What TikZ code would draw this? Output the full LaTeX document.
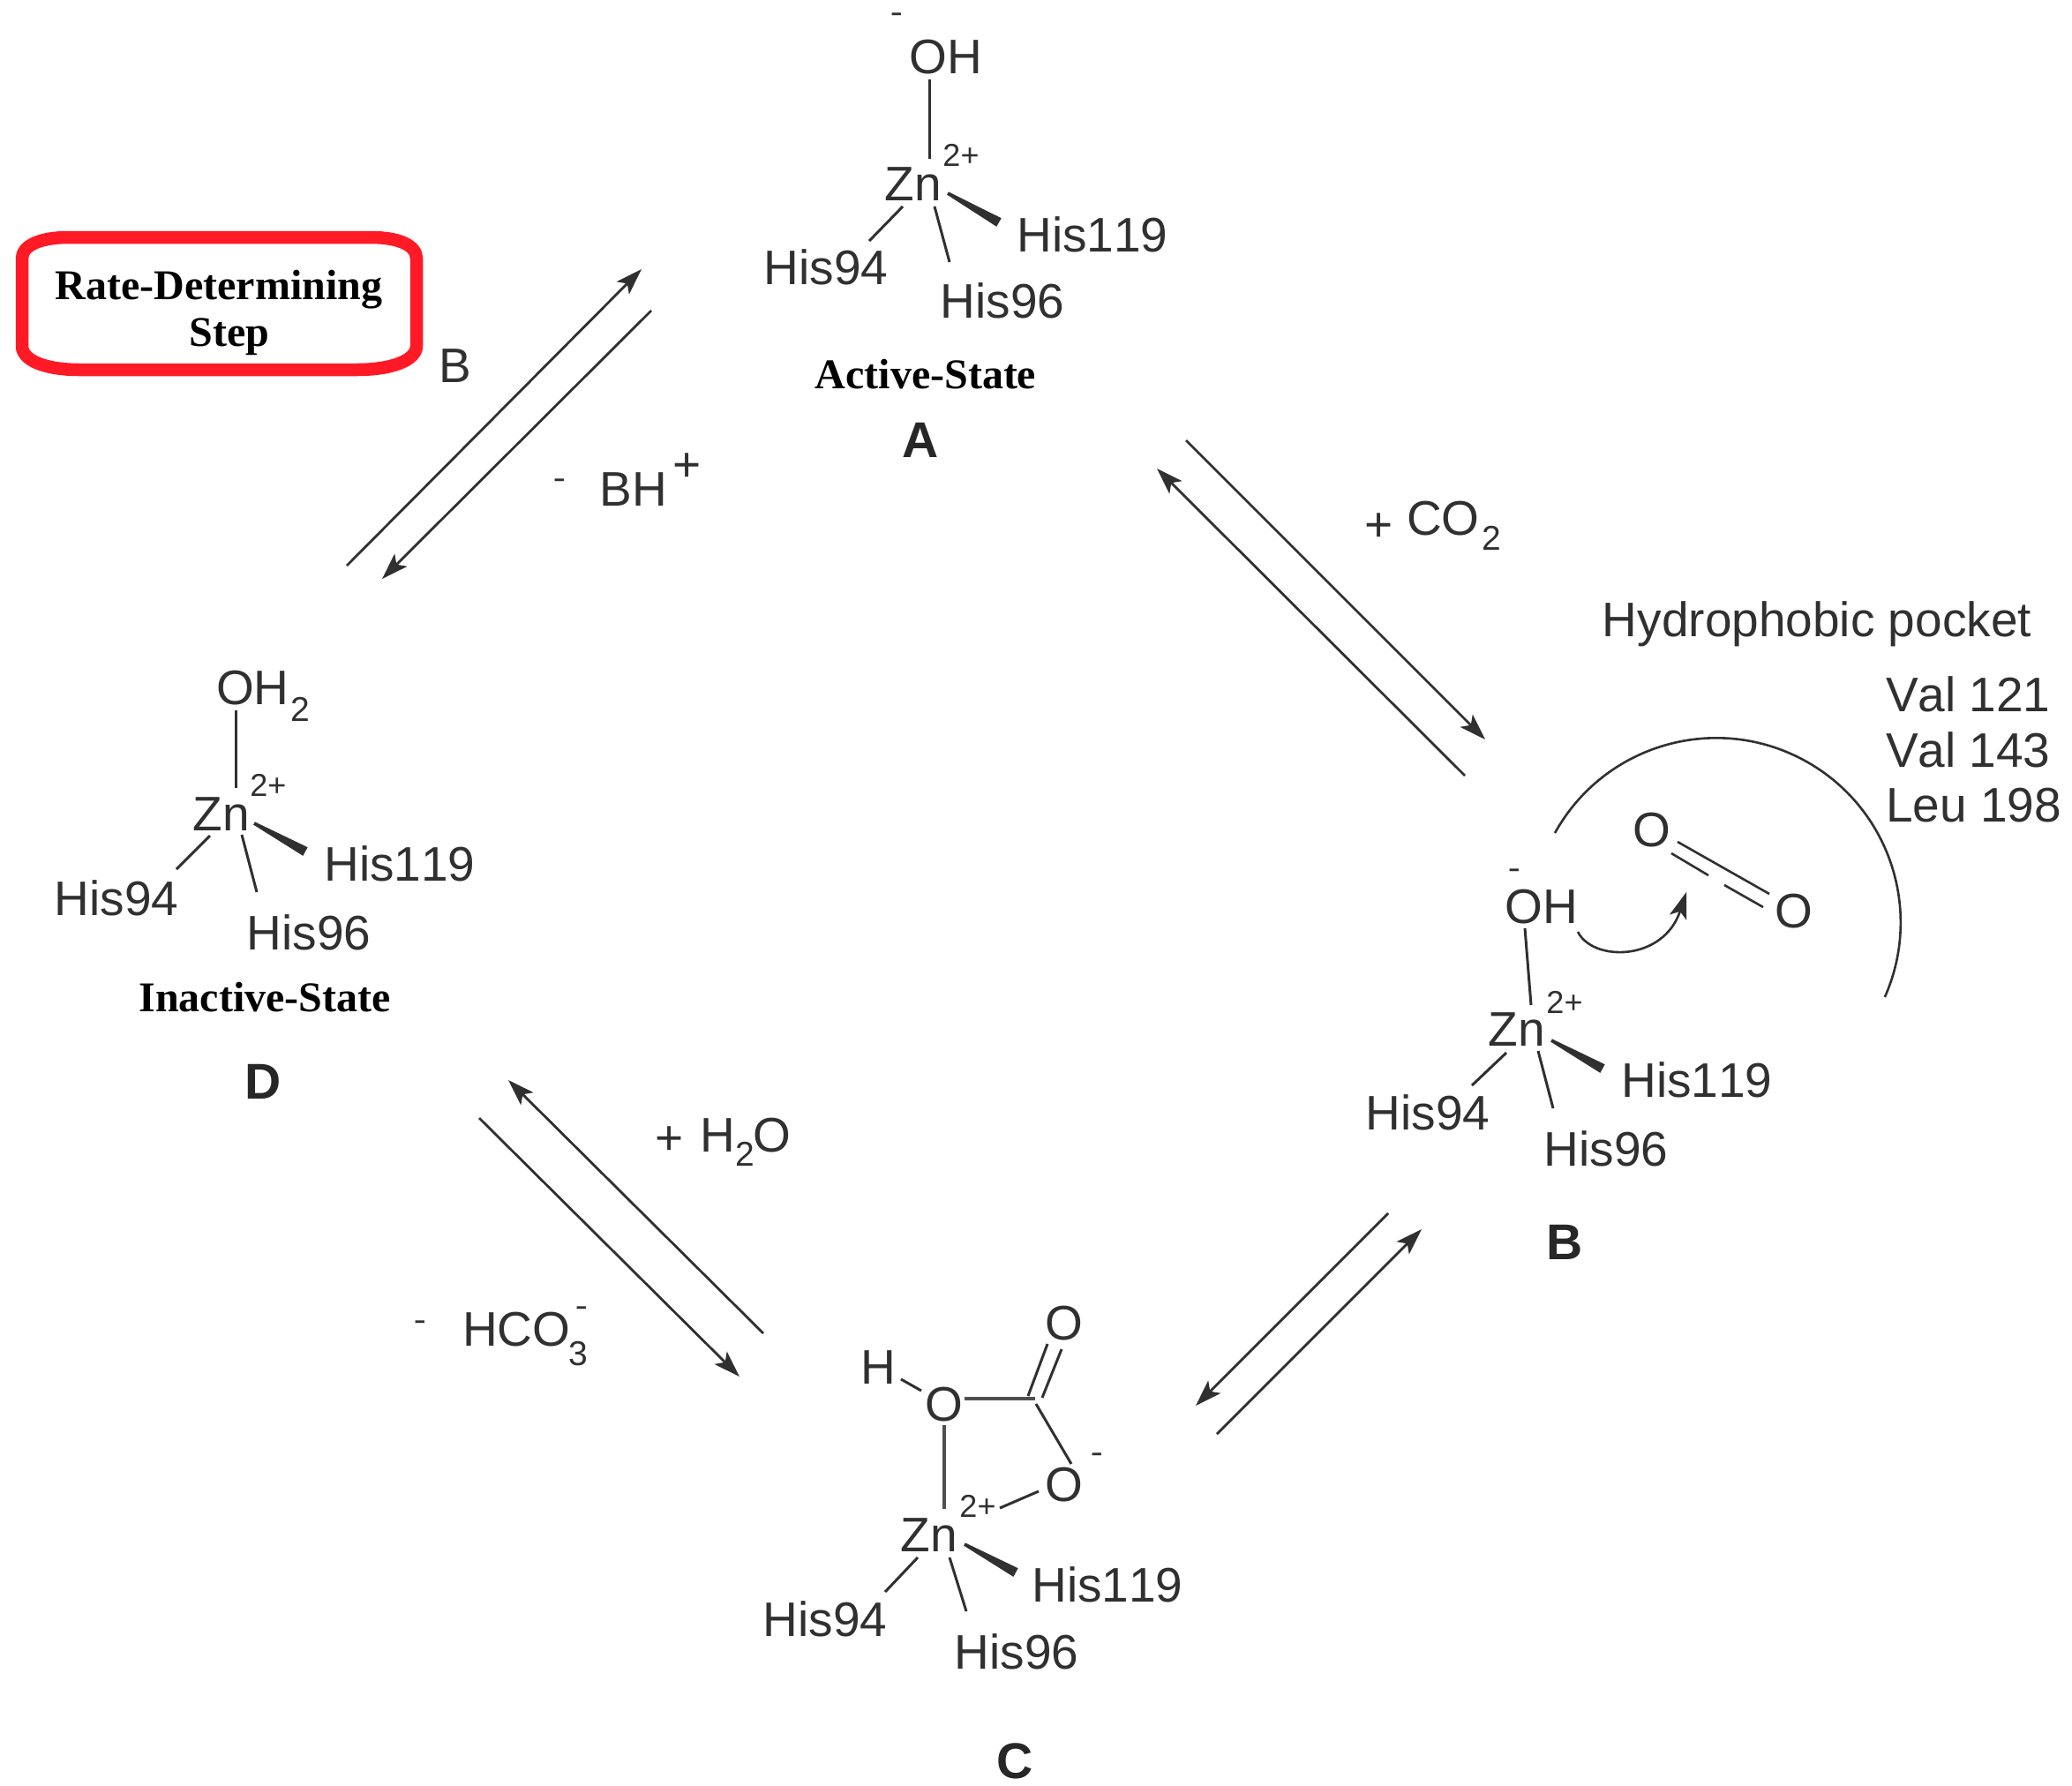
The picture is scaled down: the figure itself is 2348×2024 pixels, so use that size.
\documentclass[tikz,border=0pt]{standalone}
\usepackage{graphicx}
\usepackage{fontspec}
\setmainfont[Kerning=Off]{Liberation Sans}
\newfontfamily\serifbold[BoldFont={Liberation Serif Bold}]{Liberation Serif}
\usetikzlibrary{arrows.meta,calc}
\definecolor{ink}{HTML}{303030}
\definecolor{boxred}{HTML}{FF1A25}
\newcommand{\wedgebond}[2]{\fill[ink] (#1) -- ($(#1)!1.8pt!90:(#2)$) -- ($(#2)!5.5pt!-90:(#1)$) -- ($(#2)!5.5pt!90:(#1)$) -- ($(#1)!1.8pt!-90:(#2)$) -- cycle;}
\newcommand{\minussign}{\scalebox{1.7}[1]{-}}
\tikzset{
  lab/.style={inner sep=0pt,outer sep=0pt,text=ink,font=\fontsize{55}{60}\selectfont},
  sup/.style={inner sep=0pt,outer sep=0pt,text=ink,font=\fontsize{36}{40}\selectfont},
  subs/.style={inner sep=0pt,outer sep=0pt,text=ink,font=\fontsize{39}{42}\selectfont},
  minus/.style={inner sep=0pt,outer sep=0pt,text=ink,font=\fontsize{24}{26}\selectfont\bfseries},
  letter/.style={inner sep=0pt,outer sep=0pt,text=ink!80!black,font=\fontsize{57}{60}\selectfont\bfseries},
  state/.style={inner sep=0pt,outer sep=0pt,text=black,font=\fontsize{48}{54}\selectfont\serifbold\bfseries},
  bond/.style={draw=ink,line width=3pt},
  thin bond/.style={draw=ink,line width=2.6pt},
  thick bond/.style={draw=ink!85,line width=4pt},
  head/.style={-{Stealth[length=30pt,width=20pt,inset=7pt]}},
  eqarrow/.style={draw=ink,line width=2.8pt,head}
}
\begin{document}
\begin{tikzpicture}[x=1pt,y=-1pt]
\useasboundingbox (0,0) rectangle (2348,2024);
\fill[white] (0,0) rectangle (2348,2024);

% ---------- A
\node[minus] (Am) at (1016,19) {\minussign};
\node[lab] (Aoh) at (1072,65) {OH};
\node[sup] (Ach) at (1089,176) {2+};
\node[lab] (Azn) at (1035,209) {Zn};
\node[lab] (A119) at (1238,266) {His119};
\node[lab] (A94) at (936,303) {His94};
\node[lab] (A96) at (1136,341) {His96};
\node[state] (Ast) at (1049,424) {Active-State};
\node[letter] (Al) at (1043,499) {A};
\coordinate (Ab1) at (1053,90); \coordinate (Ab2) at (1053,180);
\coordinate (Ac1) at (1023,234); \coordinate (Ac2) at (985,273);
\coordinate (Ad1) at (1059,234); \coordinate (Ad2) at (1076,297);
\coordinate (Aw1) at (1074,219); \coordinate (Aw2) at (1132,252);
\draw[bond] (Ab1) -- (Ab2);
\draw[bond] (Ac1) -- (Ac2);
\draw[bond] (Ad1) -- (Ad2);
\wedgebond{Aw1}{Aw2}

% ---------- B
\node[minus] (Bm) at (1716,989) {\minussign};
\node[lab] (Boh) at (1747,1028) {OH};
\node[sup] (Bch) at (1773,1136) {2+};
\node[lab] (Bzn) at (1719,1167) {Zn};
\node[lab] (B119) at (1923,1224) {His119};
\node[lab] (B94) at (1618,1261) {His94};
\node[lab] (B96) at (1820,1302) {His96};
\node[letter] (Bl) at (1773,1408) {B};
\coordinate (Bb1) at (1728,1052); \coordinate (Bb2) at (1735,1139);
\coordinate (Bc1) at (1707,1193); \coordinate (Bc2) at (1668,1230);
\coordinate (Bd1) at (1743,1191); \coordinate (Bd2) at (1760,1256);
\coordinate (Bw1) at (1758,1179); \coordinate (Bw2) at (1816,1211);
\draw[bond] (Bb1) -- (Bb2);
\draw[bond] (Bc1) -- (Bc2);
\draw[bond] (Bd1) -- (Bd2);
\wedgebond{Bw1}{Bw2}

% pocket
\node[lab] (pocket) at (2059,707) {Hydrophobic pocket};
\node[lab,anchor=west] (v121) at (2137,787) {Val 121};
\node[lab,anchor=west] (v143) at (2137,850) {Val 143};
\node[lab,anchor=west] (l198) at (2137,913) {Leu 198};
\coordinate (arcstart) at (1762,944);
\draw[thin bond] (arcstart) arc[start angle=151,end angle=-23.9,radius=209pt];
\node[lab] (co1) at (1872,941) {O};
\node[lab] (co2) at (2033,1033) {O};
\coordinate (d1a) at (1901,954); \coordinate (d1b) at (2005,1013);
\coordinate (d2a) at (1894,967); \coordinate (d2b) at (1936,992);
\coordinate (d3a) at (1954,1003); \coordinate (d3b) at (1998,1028);
\draw[thin bond] (d1a) -- (d1b);
\draw[thin bond] (d2a) -- (d2b);
\draw[thin bond] (d3a) -- (d3b);
\coordinate (cur1) at (1788,1056); \coordinate (cur2) at (1911,1011);
\draw[thin bond,head] (cur1) .. controls (1805,1090) and (1885,1090) .. (cur2);

% ---------- C
\node[lab] (Chh) at (995,1550) {H};
\node[lab] (Co) at (1070,1592) {O};
\node[lab] (Cot) at (1206,1500) {O};
\node[lab] (Col) at (1206,1683) {O};
\node[minus] (Cm) at (1243,1651) {\minussign};
\node[sup] (Cch) at (1108,1707) {2+};
\node[lab] (Czn) at (1053,1740) {Zn};
\node[lab] (C119) at (1255,1796) {His119};
\node[lab] (C94) at (935,1835) {His94};
\node[lab] (C96) at (1152,1872) {His96};
\node[letter] (Cl) at (1150,1996) {C};
\coordinate (Ce1) at (1021,1563); \coordinate (Ce2) at (1044,1576);
\coordinate (Cf1) at (1093,1585); \coordinate (Cf2) at (1173,1585);
\coordinate (Cg1) at (1165,1582); \coordinate (Cg2) at (1187,1523);
\coordinate (Ch1) at (1181,1584); \coordinate (Ch2) at (1203,1529);
\coordinate (Ci1) at (1174,1591); \coordinate (Ci2) at (1214,1659);
\coordinate (Cj1) at (1177,1690); \coordinate (Cj2) at (1133,1709);
\coordinate (Cb1) at (1070,1615); \coordinate (Cb2) at (1070,1710);
\coordinate (Cc1) at (1040,1765); \coordinate (Cc2) at (1003,1804);
\coordinate (Cd1) at (1076,1765); \coordinate (Cd2) at (1095,1826);
\coordinate (Cw1) at (1093,1750); \coordinate (Cw2) at (1151,1782);
\draw[bond] (Ce1) -- (Ce2);
\draw[thick bond] (Cf1) -- (Cf2);
\draw[bond] (Cg1) -- (Cg2);
\draw[bond] (Ch1) -- (Ch2);
\draw[bond] (Ci1) -- (Ci2);
\draw[bond] (Cj1) -- (Cj2);
\draw[thick bond] (Cb1) -- (Cb2);
\draw[bond] (Cc1) -- (Cc2);
\draw[bond] (Cd1) -- (Cd2);
\wedgebond{Cw1}{Cw2}

% ---------- D
\node[lab,anchor=west] (Doh) at (245,780) {OH};
\node[subs,anchor=west] (Dsub) at (329,804) {2};
\node[sup] (Dch) at (304,890) {2+};
\node[lab] (Dzn) at (251,923) {Zn};
\node[lab] (D119) at (453,979) {His119};
\node[lab] (D94) at (132,1018) {His94};
\node[lab] (D96) at (350,1057) {His96};
\node[state] (Dst) at (300,1130) {Inactive-State};
\node[letter] (Dl) at (298,1226) {D};
\coordinate (Db1) at (267,805); \coordinate (Db2) at (267,893);
\coordinate (Dc1) at (238,947); \coordinate (Dc2) at (200,985);
\coordinate (Dd1) at (274,946); \coordinate (Dd2) at (291,1011);
\coordinate (Dw1) at (288,933); \coordinate (Dw2) at (346,965);
\draw[bond] (Db1) -- (Db2);
\draw[bond] (Dc1) -- (Dc2);
\draw[bond] (Dd1) -- (Dd2);
\wedgebond{Dw1}{Dw2}

% ---------- equilibrium arrows
\coordinate (ab1) at (1344,499); \coordinate (ab2) at (1683,838);
\coordinate (ab3) at (1660,879); \coordinate (ab4) at (1311,531);
\draw[eqarrow] (ab1) -- (ab2);
\draw[eqarrow] (ab3) -- (ab4);
\coordinate (bc1) at (1573,1375); \coordinate (bc2) at (1355,1593);
\coordinate (bc3) at (1379,1625); \coordinate (bc4) at (1611,1393);
\draw[eqarrow] (bc1) -- (bc2);
\draw[eqarrow] (bc3) -- (bc4);
\coordinate (cd1) at (865,1511); \coordinate (cd2) at (576,1224);
\coordinate (cd3) at (543,1267); \coordinate (cd4) at (838,1560);
\draw[eqarrow] (cd1) -- (cd2);
\draw[eqarrow] (cd3) -- (cd4);
\coordinate (da1) at (393,641); \coordinate (da2) at (727,305);
\coordinate (da3) at (738,352); \coordinate (da4) at (433,656);
\draw[eqarrow] (da1) -- (da2);
\draw[eqarrow] (da3) -- (da4);

% ---------- reaction labels
\node[lab] (lb) at (516,415) {B};
\node[minus] (lbm) at (634,547) {\minussign};
\node[lab] (lbh) at (718,555) {BH};
\node[lab] (lbp) at (779,530) {+};
\node[lab] (lco) at (1563,598) {+};
\node[lab,anchor=west] (lcotxt) at (1594,588) {CO};
\node[subs,anchor=west] (lco2) at (1679,610) {2};
\node[lab] (lhp) at (759,1293) {+};
\node[lab,anchor=west] (lh) at (793,1287) {H};
\node[subs,anchor=west] (lh2) at (833,1308) {2};
\node[lab,anchor=west] (lho) at (853,1287) {O};
\node[minus] (lhm) at (476,1501) {\minussign};
\node[lab,anchor=west] (lhco) at (524,1507) {HCO};
\node[subs] (lh3) at (655,1534) {3};
\node[minus] (lhs) at (659,1485) {\minussign};

% ---------- rate-determining box
\node[state] (rd1) at (248,328) {Rate-Determining};
\node[state] (rd2) at (260,382) {Step};
\coordinate (tl) at (78,269); \coordinate (tr) at (420,269);
\coordinate (rt) at (472,293); \coordinate (rb) at (472,392);
\coordinate (br) at (404,419); \coordinate (bl) at (90,419);
\coordinate (lb2) at (25,392); \coordinate (lt) at (25,293);
\draw[draw=boxred,line width=14.5pt,line join=round] (tl) -- (tr)
  .. controls (452,269) and (472,278) .. (rt) -- (rb)
  .. controls (472,408) and (445,419) .. (br) -- (bl)
  .. controls (50,419) and (25,408) .. (lb2) -- (lt)
  .. controls (25,278) and (46,269) .. (tl) -- cycle;
\end{tikzpicture}
\end{document}
